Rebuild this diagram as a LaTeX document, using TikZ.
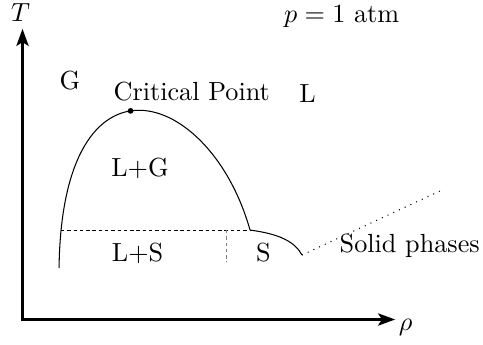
\documentclass[tikz,border=0pt]{standalone}
\usepackage{amsmath}
\usepackage{tikz}
\usetikzlibrary{calc, arrows.meta, positioning}

\begin{document}
\begin{tikzpicture}[
    axis/.style={very thick, line join=miter,
      {Stealth[length=6.5pt, width=4.6pt, inset=1.4pt]}-{Stealth[length=6.5pt, width=4.6pt, inset=1.4pt]}},
    tieline/.style={dash pattern=on 1.3pt off 1.1pt},
    phase/.style={inner sep=0pt}]
        \useasboundingbox (-0.302,-0.329) rectangle (6.177,4.286);

        % --- Axes ---
        \coordinate (O) at (0,0);
        \coordinate (Tend) at (0,3.9);
        \coordinate (rhoend) at (5.0,0);
        \draw[axis] (Tend) -- (O) -- (rhoend);
        \node (Tlab) at (-0.027,4.115) {$T$};
        \node (rholab) at (5.138,-0.107) {$\rho$};
        \node (plab) at (4.282,4.060) {$p=1$ atm};

        % --- Liquid-gas dome ---
        \coordinate (domeL) at (0.490,0.691);
        \coordinate (domeR) at (3.052,1.200);
        \draw (domeL) .. controls (0.530,3.749) and (2.515,3.105) .. (domeR)
              coordinate[pos=0.46] (cp);
        \fill (cp) circle (1.1pt);

        % --- Solid branch and solid phases ---
        \coordinate (sEnd) at (3.749,0.865);
        \coordinate (solidEnd) at (5.600,1.724);
        \draw (domeR) .. controls (3.454,1.147) and (3.655,1.040) .. (sEnd);
        \draw[dotted] (sEnd) -- (solidEnd);

        % --- Triple line and L+S / S boundary ---
        \coordinate (tripL) at (0.516,1.200);
        \coordinate (sepT) at (2.730,1.200);
        \coordinate (sepB) at (2.730,0.771);
        \draw[tieline] (tripL) -- (domeR);
        \draw[tieline, gray] (sepT) -- (sepB);

        % --- Phase labels ---
        \node (G) at (0.637,3.199) {G};
        \node (crit) at (2.270,3.052) {Critical Point};
        \node (L) at (3.823,3.025) {L};
        \node (LG) at (1.576,2.031) {L+G};
        \node (LS) at (1.543,0.892) {L+S};
        \node (S) at (3.230,0.892) {S};
        \node (solid) at (5.194,0.989) {Solid phases};
\end{tikzpicture}
\end{document}
